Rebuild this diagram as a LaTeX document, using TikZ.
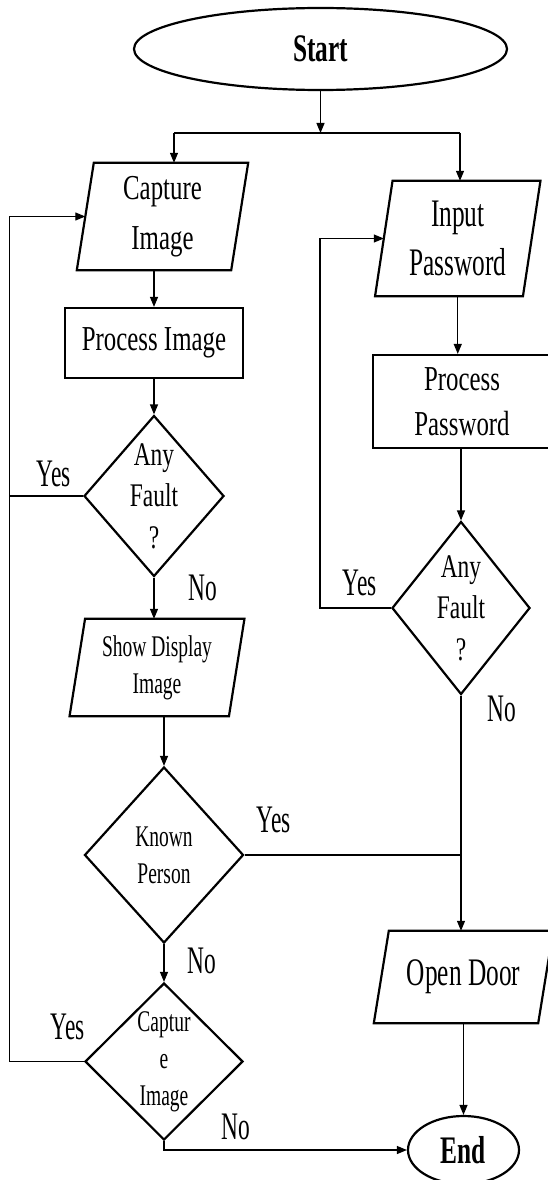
\documentclass[tikz,border=0pt]{standalone}
\usepackage{fontspec}
\setmainfont{Liberation Serif}
\newfontfamily\cfa[FakeStretch=0.71]{Liberation Serif}
\newfontfamily\cfb[FakeStretch=0.65]{Liberation Serif}
\newfontfamily\cfc[FakeStretch=0.60]{Liberation Serif}
\usetikzlibrary{shapes.geometric,arrows.meta}
\newcommand\drawpara[2]{\draw[shp] ([xshift=#2]#1.north west) -- ([xshift=#2]#1.north east) -- ([xshift=-#2]#1.south east) -- ([xshift=-#2]#1.south west) -- cycle;}
\begin{document}
\begin{tikzpicture}[x=1pt,y=-1pt,
  shp/.style={line width=2.2pt, line join=miter},
  con/.style={line width=1.2pt},
  arr/.style={con, -{Triangle[length=10pt,width=8pt]}},
  tA/.style={font=\cfa\fontsize{35}{50}\selectfont, align=center},
  tP/.style={font=\cfa\fontsize{35}{45}\selectfont, align=center},
  tB/.style={font=\cfb\fontsize{39}{49}\selectfont, align=center},
  small/.style={font=\cfb\fontsize{30}{37}\selectfont, align=center},
  dtxt/.style={font=\cfa\fontsize{33}{41.5}\selectfont, align=center},
  lbl/.style={font=\cfc\fontsize{39}{45}\selectfont, anchor=base},
  bold/.style={font=\cfb\bfseries\fontsize{39}{45}\selectfont},
  io/.style={rectangle, inner sep=0pt, draw=none, align=center},
  procbox/.style={rectangle, draw, shp, inner sep=0pt, align=center},
  dec/.style={diamond, draw, shp, inner sep=0pt},
  term/.style={ellipse, draw, shp, inner sep=0pt}]
\fill[white] (0,0) rectangle (547,1180);
\useasboundingbox (0,0) rectangle (547,1180);

% nodes
\node[term, bold, minimum width=373pt, minimum height=82pt] (start) at (320.5,49) {Start};
\node[io, tA, minimum width=154pt, minimum height=107pt] (cap) at (162.5,216.5) {Capture\\Image};
\node[procbox, tA, minimum width=178pt, minimum height=70pt] (proc) at (154,343) {Process Image};
\node[dec, minimum width=140pt, minimum height=161pt, label={[dtxt]center:Any\\Fault\\?}] (d1) at (154,496) {};
\node[io, small, minimum width=159pt, minimum height=97pt] (sdi) at (157,667.5) {Show Display\\Image};
\node[dec, minimum width=159pt, minimum height=176pt, label={[small]center:Known\\Person}] (d3) at (164,855) {};
\node[dec, minimum width=158pt, minimum height=157pt, label={[small]center:Captur\\e\\Image}] (d4) at (164,1061.5) {};
\node[io, tB, minimum width=147.5pt, minimum height=115pt] (inp) at (457.75,238.5) {Input\\Password};
\node[procbox, tP, minimum width=178pt, minimum height=93pt] (pp) at (462,401.5) {Process\\Password};
\node[dec, minimum width=138pt, minimum height=173pt, label={[dtxt]center:Any\\Fault\\?}] (d2) at (461,608) {};
\node[io, tB, minimum width=164pt, minimum height=92pt] (od) at (463.5,977) {Open Door};
\node[term, bold, minimum width=111pt, minimum height=68pt] (end) at (463.5,1150) {End};

\drawpara{cap}{8.5}
\drawpara{sdi}{7.75}
\drawpara{inp}{8.75}
\drawpara{od}{7.5}

% connectors
\coordinate (jl) at (174,133);
\coordinate (jr) at (460,133);
\coordinate (lx) at (9.5,0);
\coordinate (rx) at (320,0);
\draw[arr] (start.south) -- (start.south |- jl);
\draw[con] (jl) -- (jr);
\draw[arr] (jl) -- (jl |- cap.north);
\draw[arr] (jr) -- (jr |- inp.north);
\draw[arr] (cap.south -| proc.north) -- (proc.north);
\draw[arr] (proc.south) -- (d1.north);
\draw[arr] (d1.south) -- (d1.south |- sdi.north);
\draw[arr] (sdi.south -| d3.north) -- (d3.north);
\draw[arr] (d3.south) -- (d4.north);
\draw[arr] (d4.west) -- (d4.west -| lx) -- (lx |- cap.west) -- (cap.west);
\draw[con] (d1.west) -- (d1.west -| lx);
\draw[arr] (d2.west) -- (d2.west -| rx) -- (rx |- inp.west) -- (inp.west);
\draw[arr] (inp.south) -- (inp.south |- pp.north);
\draw[arr] (pp.south -| d2.north) -- (d2.north);
\draw[arr] (d2.south) -- (d2.south |- od.north);
\coordinate (jk) at (d2.south |- d3.east);
\draw[con] (d3.east) -- (jk);
\draw[arr] (od.south) -- (end.north);
\draw[arr] (d4.south) |- (end.west);

% labels
\node[lbl] (y1) at (54,486) {Yes};
\node[lbl] (n1) at (202.5,600) {No};
\node[lbl] (y2) at (359.5,595) {Yes};
\node[lbl] (n2) at (501.5,721.5) {No};
\node[lbl] (y3) at (274,832) {Yes};
\node[lbl] (n3) at (202,973) {No};
\node[lbl] (y4) at (68,1039) {Yes};
\node[lbl] (n4) at (235.5,1139) {No};
\end{tikzpicture}
\end{document}
